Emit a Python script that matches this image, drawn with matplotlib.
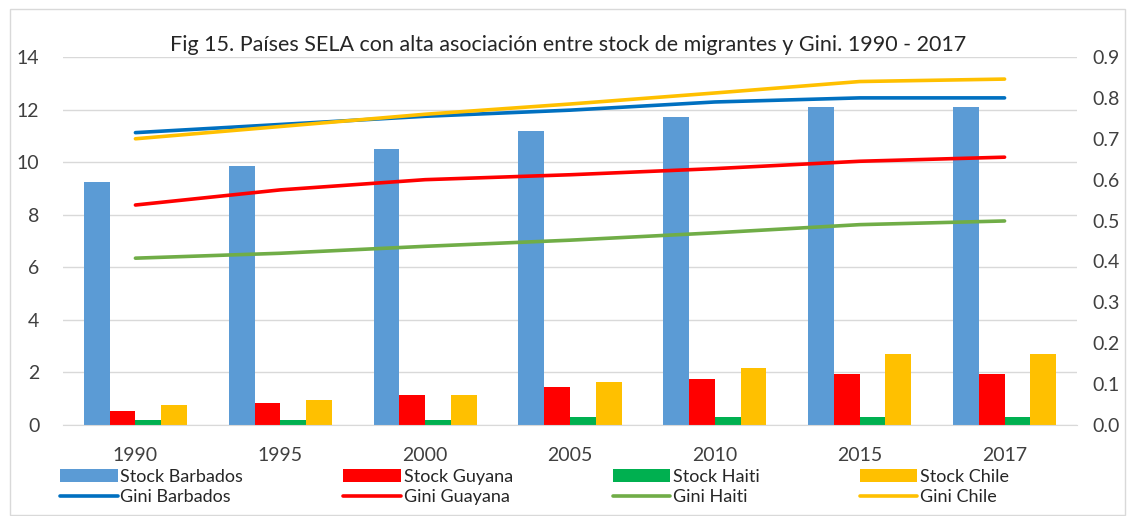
import matplotlib
matplotlib.use("Agg")
import matplotlib.pyplot as plt
import numpy as np

years = ["1990", "1995", "2000", "2005", "2010", "2015", "2017"]

stock_barbados = [9.25, 9.85, 10.5, 11.2, 11.7, 12.1, 12.1]
stock_guyana = [0.55, 0.85, 1.15, 1.45, 1.75, 1.95, 1.95]
stock_haiti = [0.2, 0.2, 0.2, 0.3, 0.3, 0.3, 0.3]
stock_chile = [0.75, 0.95, 1.15, 1.65, 2.15, 2.7, 2.7]

gini_barbados = [0.715, 0.735, 0.755, 0.77, 0.79, 0.80, 0.80]
gini_guyana = [0.538, 0.575, 0.60, 0.612, 0.627, 0.645, 0.655]
gini_haiti = [0.408, 0.42, 0.437, 0.452, 0.47, 0.49, 0.499]
gini_chile = [0.70, 0.73, 0.76, 0.785, 0.812, 0.84, 0.846]

plt.rcParams["font.family"] = ["Lato", "DejaVu Sans"]

fig = plt.figure(figsize=(11.31, 5.16), dpi=100)
ax = fig.add_axes([63 / 1131, 1 - 425 / 516, (1077 - 63) / 1131, (425 - 57) / 516])
ax2 = ax.twinx()

x = np.arange(len(years))
w = 0.178
bars = [
    (stock_barbados, "#5B9BD5", "Stock Barbados"),
    (stock_guyana, "#FF0000", "Stock Guyana"),
    (stock_haiti, "#00B050", "Stock Haiti"),
    (stock_chile, "#FFC000", "Stock Chile"),
]
bar_handles = []
for i, (vals, col, lab) in enumerate(bars):
    h = ax.bar(x + (i - 1.5) * w, vals, w, color=col, label=lab, zorder=2)
    bar_handles.append(h)

lines = [
    (gini_barbados, "#0070C0", "Gini Barbados"),
    (gini_guyana, "#FF0000", "Gini Guayana"),
    (gini_haiti, "#70AD47", "Gini Haiti"),
    (gini_chile, "#FFC000", "Gini Chile"),
]
line_handles = []
for vals, col, lab in lines:
    (ln,) = ax2.plot(x, vals, color=col, lw=2.6, label=lab, solid_capstyle="round")
    line_handles.append(ln)

ax.set_xlim(-0.5, len(years) - 0.5)
ax.set_ylim(0, 14)
ax.set_yticks(range(0, 15, 2))
ax2.set_ylim(0, 0.9)
ax2.set_yticks(np.arange(0, 0.91, 0.1))
ax2.set_yticklabels([f"{v:.1f}" for v in np.arange(0, 0.91, 0.1)])
ax.set_xticks(x)
ax.set_xticklabels(years)

ax.grid(axis="y", color="#D9D9D9", lw=1, zorder=0)
ax.set_axisbelow(True)
for a in (ax, ax2):
    for s in a.spines.values():
        s.set_visible(False)
    a.tick_params(length=0, labelsize=14, colors="#404040")
ax.spines["bottom"].set_visible(True)
ax.spines["bottom"].set_color("#D9D9D9")
ax.tick_params(axis="y", pad=17)
ax2.tick_params(axis="y", pad=11)
ax.tick_params(axis="x", pad=16)

fig.text(0.502, 0.912, "Fig 15. Países SELA con alta asociación entre stock de migrantes y Gini. 1990 - 2017",
         ha="center", va="center", fontsize=15.5, color="#262626")

handles = []
for b, l in zip(bar_handles, line_handles):
    handles += [b, l]
fig.legend(handles, [h.get_label() for h in handles], ncol=4, loc="lower left",
           bbox_to_anchor=(49 / 1131, 0.0, (1020 - 49) / 1131, 0.11), mode="expand",
           frameon=False, fontsize=13, handlelength=3.2, handletextpad=0.15,
           labelspacing=0.25, borderaxespad=0.2, labelcolor="#262626")

border = plt.Rectangle((10 / 1131, 0.002), 1115 / 1131, 1 - 10 / 516, transform=fig.transFigure,
                       fill=False, ec="#D9D9D9", lw=1)
fig.patches.append(border)

fig.savefig("out.png", dpi=100)
